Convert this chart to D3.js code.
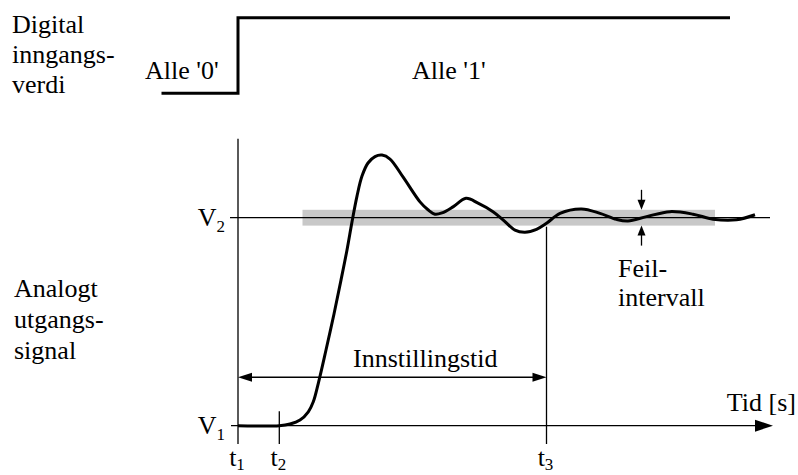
<!DOCTYPE html>
<html>
<head>
<meta charset="utf-8">
<script src="https://cdn.jsdelivr.net/npm/d3@7"></script>
<style>
  body { margin: 0; background: #fff; }
  text { font-family: "Liberation Serif", "Times New Roman", serif; fill: #000; }
</style>
</head>
<body>
<div id="chart-container"></div>
<script>
// digital input (time, level)
const digitalT = [-15.3, 0, 0, 98.4];
const digitalV = [0, 0, 1, 1];

// analog output response (time, level relative to V1=0, V2=1)
const responseT = [0, 8.26, 10.4, 12.4, 14.06, 15.06, 16.06, 17.6, 19.2, 20.6, 21.8, 22.8, 23.8, 24.8, 26, 27.4, 28.8, 30.4, 33, 36.4, 38, 39.4, 40.8, 43, 45.6, 48, 51, 53, 55.4, 57.4, 59.7, 61.7, 64.4, 68.7, 72.4, 75.7, 78, 81.7, 86.4, 91, 95, 99.7, 103.4];
const responseV = [0, 0, 0.008, 0.027, 0.067, 0.115, 0.204, 0.364, 0.537, 0.700, 0.845, 0.980, 1.104, 1.200, 1.263, 1.294, 1.301, 1.282, 1.196, 1.076, 1.038, 1.017, 1.023, 1.052, 1.093, 1.07, 1.029, 0.99, 0.940, 0.930, 0.944, 0.973, 1.021, 1.042, 1.021, 0.992, 0.984, 1.005, 1.029, 1.017, 0.993, 0.990, 1.014];

const timeMarks = [0, 8.26, 61.7];
const timeLabels = ["1", "2", "3"];
const levels = [0, 1];
const levelLabels = ["1", "2"];
const tolerance = 0.038;
const bandT = [12.9, 95.4];
const settleLevel = 0.233;
const errorMarkT = 80.7;

const width = 798, height = 475;
const fontSize = 26, subSize = 17;

const svg = d3.select("#chart-container")
    .append("svg")
    .attr("width", width)
    .attr("height", height);

const x = d3.scaleLinear().domain([0, 100]).range([238, 738]);
const y = d3.scaleLinear().domain([0, 1]).range([425.7, 217.7]);
const yd = d3.scaleLinear().domain([0, 1]).range([93.3, 17.7]);

function multiline(lines, x0, y0, step) {
    const t = svg.append("text").attr("x", x0).attr("y", y0).style("font-size", fontSize + "px");
    lines.forEach((l, i) => t.append("tspan").attr("x", x0).attr("dy", i === 0 ? 0 : step).text(l));
}
multiline(["Digital", "inngangs-", "verdi"], 12, 33, 30);
multiline(["Analogt", "utgangs-", "signal"], 14, 297, 31);

// digital signal
svg.append("path")
    .datum(digitalT.map((t, i) => [t, digitalV[i]]))
    .attr("fill", "none")
    .attr("stroke", "#000")
    .attr("stroke-width", 3)
    .attr("d", d3.line().x(d => x(d[0])).y(d => yd(d[1])));

svg.append("text").attr("x", 145).attr("y", 79).style("font-size", fontSize + "px").text("Alle '0'");
svg.append("text").attr("x", 412).attr("y", 79).style("font-size", fontSize + "px").text("Alle '1'");

// tolerance band
svg.append("rect")
    .attr("x", x(bandT[0]))
    .attr("y", y(1 + tolerance))
    .attr("width", x(bandT[1]) - x(bandT[0]))
    .attr("height", y(1 - tolerance) - y(1 + tolerance))
    .attr("fill", "#c8c8c8");

// V2 level line
svg.append("line")
    .attr("x1", x(-1.6)).attr("x2", x(106.4))
    .attr("y1", y(1)).attr("y2", y(1))
    .attr("stroke", "#000").attr("stroke-width", 1.3);

function arrowHead(px, py, dx, dy, len, half) {
    const nx = -dy, ny = dx;
    const bx = px - dx * len, by = py - dy * len;
    svg.append("path")
        .attr("d", `M${px},${py}L${bx + nx * half},${by + ny * half}L${bx - nx * half},${by - ny * half}Z`)
        .attr("fill", "#000");
}

// time axis with arrow
const axisEnd = 107;
svg.append("line")
    .attr("x1", x(-1.4)).attr("x2", x(axisEnd) - 10)
    .attr("y1", y(0)).attr("y2", y(0))
    .attr("stroke", "#000").attr("stroke-width", 1.3);
arrowHead(x(axisEnd), y(0), 1, 0, 18, 6);

// vertical axis (t1)
svg.append("line")
    .attr("x1", x(timeMarks[0])).attr("x2", x(timeMarks[0]))
    .attr("y1", y(1.38)).attr("y2", y(-0.088))
    .attr("stroke", "#000").attr("stroke-width", 1.3);

// t2 tick
svg.append("line")
    .attr("x1", x(timeMarks[1])).attr("x2", x(timeMarks[1]))
    .attr("y1", y(0.07)).attr("y2", y(-0.088))
    .attr("stroke", "#000").attr("stroke-width", 1.3);

// t3 line
svg.append("line")
    .attr("x1", x(timeMarks[2])).attr("x2", x(timeMarks[2]))
    .attr("y1", y(0.957)).attr("y2", y(-0.088))
    .attr("stroke", "#000").attr("stroke-width", 1.3);

// settling time arrow
svg.append("line")
    .attr("x1", x(timeMarks[0]) + 8).attr("x2", x(timeMarks[2]) - 8)
    .attr("y1", y(settleLevel)).attr("y2", y(settleLevel))
    .attr("stroke", "#000").attr("stroke-width", 1.3);
arrowHead(x(timeMarks[0]), y(settleLevel), -1, 0, 14, 4.5);
arrowHead(x(timeMarks[2]), y(settleLevel), 1, 0, 14, 4.5);
svg.append("text")
    .attr("x", 353)
    .attr("y", y(settleLevel) - 10)
    .style("font-size", fontSize + "px")
    .text("Innstillingstid");

// error interval arrows
const ex = x(errorMarkT);
svg.append("line").attr("x1", ex).attr("x2", ex)
    .attr("y1", y(1 + tolerance) - 20).attr("y2", y(1 + tolerance) - 8)
    .attr("stroke", "#000").attr("stroke-width", 1.3);
arrowHead(ex, y(1 + tolerance), 0, 1, 10, 4);
svg.append("line").attr("x1", ex).attr("x2", ex)
    .attr("y1", y(1 - tolerance) + 8).attr("y2", y(1 - tolerance) + 20)
    .attr("stroke", "#000").attr("stroke-width", 1.3);
arrowHead(ex, y(1 - tolerance), 0, -1, 10, 4);
multiline(["Feil-", "intervall"], 618, 277, 29);

// response curve
svg.append("path")
    .datum(responseT.map((t, i) => [t, responseV[i]]))
    .attr("fill", "none")
    .attr("stroke", "#000")
    .attr("stroke-width", 3)
    .attr("stroke-linejoin", "round")
    .attr("d", d3.line().curve(d3.curveCatmullRom.alpha(0.5)).x(d => x(d[0])).y(d => y(d[1])));

// level labels
levels.forEach((v, i) => {
    const t = svg.append("text")
        .attr("x", 225)
        .attr("y", y(v) + 8)
        .attr("text-anchor", "end")
        .style("font-size", fontSize + "px");
    t.append("tspan").text("V");
    t.append("tspan").attr("dy", 6).style("font-size", subSize + "px").text(levelLabels[i]);
});

// time labels
timeMarks.forEach((tm, i) => {
    const t = svg.append("text")
        .attr("x", x(tm) - 1)
        .attr("y", 466)
        .attr("text-anchor", "middle")
        .style("font-size", fontSize + "px");
    t.append("tspan").text("t");
    t.append("tspan").attr("dy", 4).style("font-size", subSize + "px").text(timeLabels[i]);
});

svg.append("text")
    .attr("x", 796)
    .attr("y", 411)
    .attr("text-anchor", "end")
    .style("font-size", fontSize + "px")
    .text("Tid [s]");
</script>
</body>
</html>
